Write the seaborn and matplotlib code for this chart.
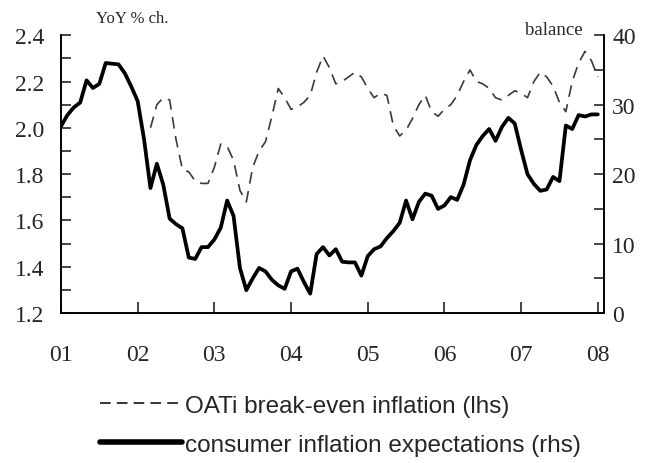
import numpy as np
import pandas as pd
import matplotlib
matplotlib.use("Agg")
import matplotlib.pyplot as plt
from matplotlib.ticker import MultipleLocator, FixedLocator
from matplotlib.lines import Line2D
import seaborn as sns

# monthly data, Jan 2001 .. Jan 2008
consumer = [26.9, 28.5, 29.6, 30.3, 33.5, 32.4, 33.0, 36.0, 35.9, 35.8, 34.5, 32.6,
            30.5, 25.0, 18.0, 21.5, 18.5, 13.6, 12.8, 12.2, 8.0, 7.8, 9.5, 9.5,
            10.6, 12.3, 16.2, 14.0, 6.5, 3.3, 5.0, 6.5, 6.0, 4.8, 4.0, 3.5,
            6.0, 6.4, 4.5, 2.8, 8.5, 9.5, 8.3, 9.2, 7.4, 7.3, 7.3, 5.4,
            8.2, 9.2, 9.6, 10.8, 11.8, 13.0, 16.2, 13.5, 16.0, 17.2, 16.9, 15.0,
            15.5, 16.7, 16.3, 18.5, 22.0, 24.2, 25.5, 26.5, 24.8, 26.8, 28.1, 27.3,
            23.5, 20.0, 18.6, 17.6, 17.8, 19.6, 19.0, 27.0, 26.5, 28.5, 28.3, 28.6,
            28.6]

# OATi break-even, Mar 2002 .. Jan 2008
oati = [2.00, 2.10, 2.13, 2.12, 1.95, 1.82, 1.81, 1.77, 1.76, 1.76,
        1.83, 1.93, 1.92, 1.86, 1.73, 1.68, 1.83, 1.90, 1.94, 2.05, 2.17, 2.13,
        2.08, 2.09, 2.11, 2.14, 2.24, 2.31, 2.26, 2.19, 2.20, 2.22, 2.24, 2.22,
        2.17, 2.13, 2.15, 2.14, 2.01, 1.965, 1.99, 2.04, 2.10, 2.14, 2.07, 2.05,
        2.08, 2.10, 2.14, 2.20, 2.25, 2.20, 2.19, 2.17, 2.13, 2.12, 2.14, 2.16,
        2.15, 2.13, 2.20, 2.24, 2.22, 2.18, 2.11, 2.07, 2.20, 2.28, 2.33, 2.29,
        2.22]

year_ticks = [2001, 2002, 2003, 2004, 2005, 2006, 2007, 2008]
year_labels = ["01", "02", "03", "04", "05", "06", "07", "08"]

t_cons = 2001 + np.arange(len(consumer)) / 12
t_oati = 2001 + (14 + np.arange(len(oati))) / 12
df_c = pd.DataFrame({"t": t_cons, "v": consumer})
df_o = pd.DataFrame({"t": t_oati, "v": oati})

sns.set_style("white")
plt.rcParams["font.family"] = ["Liberation Serif", "DejaVu Serif"]

fig = plt.figure(figsize=(6.51, 4.64), dpi=100)
ax = fig.add_axes([0.0937, 0.323, 0.834, 0.599])
ax2 = ax.twinx()

sns.lineplot(data=df_o, x="t", y="v", ax=ax, color="#3a3a3a", lw=1.2,
             linestyle=(0, (7, 4.5)))
sns.lineplot(data=df_c, x="t", y="v", ax=ax2, color="black", lw=2.7)

ax.set_xlim(2001, 2008.08)
ax.set_ylim(1.2, 2.4)
ax2.set_ylim(0, 40)

for a in (ax, ax2):
    a.set_xlabel("")
    a.set_ylabel("")
    a.spines["top"].set_visible(False)
    for s in a.spines.values():
        s.set_linewidth(1.2)
        s.set_color("black")

ax.xaxis.set_major_locator(FixedLocator(year_ticks))
ax.set_xticklabels(year_labels)
ax.yaxis.set_major_locator(MultipleLocator(0.2))
ax.yaxis.set_minor_locator(MultipleLocator(0.1))
ax.yaxis.set_major_formatter(matplotlib.ticker.FormatStrFormatter("%.1f"))
ax2.yaxis.set_major_locator(MultipleLocator(10))
ax2.yaxis.set_minor_locator(MultipleLocator(5))

ax.tick_params(axis="x", direction="in", length=8, width=1.2, labelsize=17, pad=22)
ax.tick_params(axis="y", which="both", direction="in", length=7, width=1.2, labelsize=17, pad=12)
ax2.tick_params(axis="y", which="both", direction="in", length=7, width=1.2, labelsize=17, pad=6)
ax.tick_params(left=True, bottom=True)
ax2.tick_params(right=True)

fig.text(0.147, 0.95, "YoY % ch.", fontsize=12)
fig.text(0.806, 0.925, "balance", fontsize=13.5)

handles = [Line2D([], [], color="black", lw=1.1, linestyle=(0, (7, 4))),
           Line2D([], [], color="black", lw=4.0)]
labels = ["OATi break-even inflation (lhs)", "consumer inflation expectations (rhs)"]
fig.legend(handles, labels, loc="upper left", bbox_to_anchor=(0.153, 0.147),
           frameon=False, handlelength=3.4, handletextpad=0.1, labelspacing=0.7,
           prop={"family": ["Liberation Sans Narrow", "Liberation Sans"], "size": 17.5},
           borderaxespad=0, borderpad=0)

fig.savefig("out.png", dpi=100)
